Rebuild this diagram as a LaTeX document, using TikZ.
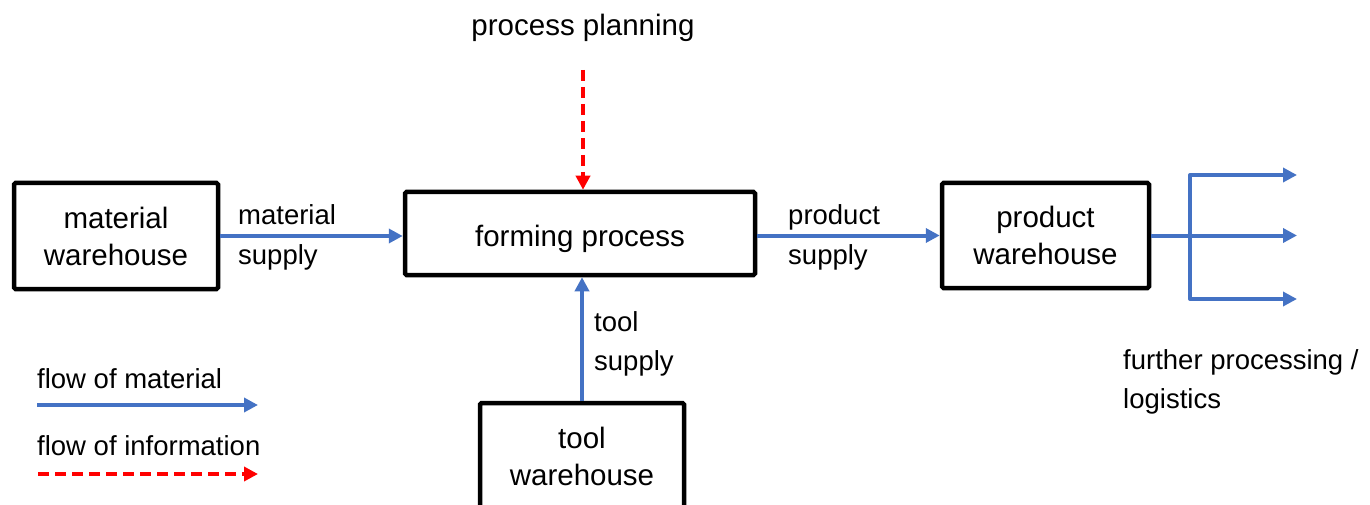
\documentclass[tikz,border=0pt]{standalone}
\usepackage{fontspec}
\setmainfont{Liberation Sans}
\usetikzlibrary{arrows.meta}
\definecolor{flowblue}{RGB}{68,114,196}
\definecolor{infored}{RGB}{255,0,0}
\begin{document}
\begin{tikzpicture}[x=1pt,y=-1pt,
  >={Triangle[length=14pt,width=14pt]},
  box/.style={draw=black, line width=4.5pt, rounded corners=1.5pt, align=center,
    inner sep=0pt, font=\fontsize{29.5}{37}\selectfont},
  lbl/.style={inner sep=0pt, anchor=base west, font=\fontsize{27.5}{33}\selectfont},
  matflow/.style={draw=flowblue, line width=4pt, line join=round, ->},
  infoflow/.style={draw=infored, line width=4pt, dash pattern=on 11pt off 6pt, ->},
]
\useasboundingbox (0,0) rectangle (1370,505);
\clip (0,0) rectangle (1370,505);

% process boxes
\node[box, minimum width=204pt, minimum height=106pt] (mw) at (116,236) {material\\warehouse};
\node[box, minimum width=350pt, minimum height=83pt, text height=32pt, text depth=6pt] (fp) at (580,233.5) {forming process};
\node[box, minimum width=207pt, minimum height=105pt] (pw) at (1045.5,235.5) {product\\warehouse};
\node[box, minimum width=204pt, minimum height=106pt] (tw) at (582,456) {tool\\warehouse};

% planning input
\node[inner sep=0pt, anchor=base, font=\fontsize{29.5}{35}\selectfont] (pp) at (583,36) {process planning};
\coordinate (ppEnd) at (583,70);
\draw[infoflow] (ppEnd) -- (ppEnd |- fp.north);

% material and product supply
\draw[matflow] (mw.east) -- (mw.east -| fp.west);
\node[lbl] (msA) at (238,225) {material};
\node[lbl] (msB) at (238,264) {supply};
\draw[matflow] (fp.east |- pw.west) -- (pw.west);
\node[lbl] (psA) at (788,225) {product};
\node[lbl] (psB) at (788,264) {supply};

% tool supply
\draw[matflow] (tw.north) -- (tw.north |- fp.south);
\node[lbl] (tsA) at (594,331) {tool};
\node[lbl] (tsB) at (594,370) {supply};

% distribution to further processing
\coordinate (ft) at (1190,175);
\coordinate (fb) at (1190,299);
\coordinate (o1) at (1297,175);
\coordinate (o3) at (1297,299);
\draw[matflow] (pw.east) -- (pw.east -| o1);
\draw[matflow, <->] (o1) -- (ft) -- (fb) -- (o3);
\node[lbl] (fpA) at (1123,369) {further processing /};
\node[lbl] (fpB) at (1123,408) {logistics};

% legend
\node[lbl] (lm) at (37,388) {flow of material};
\coordinate (lmA) at (37,405);
\coordinate (lmB) at (258,405);
\draw[matflow] (lmA) -- (lmB);
\node[lbl] (li) at (37,455) {flow of information};
\coordinate (liA) at (38,474);
\coordinate (liB) at (258,474);
\draw[infoflow] (liA) -- (liB);
\end{tikzpicture}
\end{document}
